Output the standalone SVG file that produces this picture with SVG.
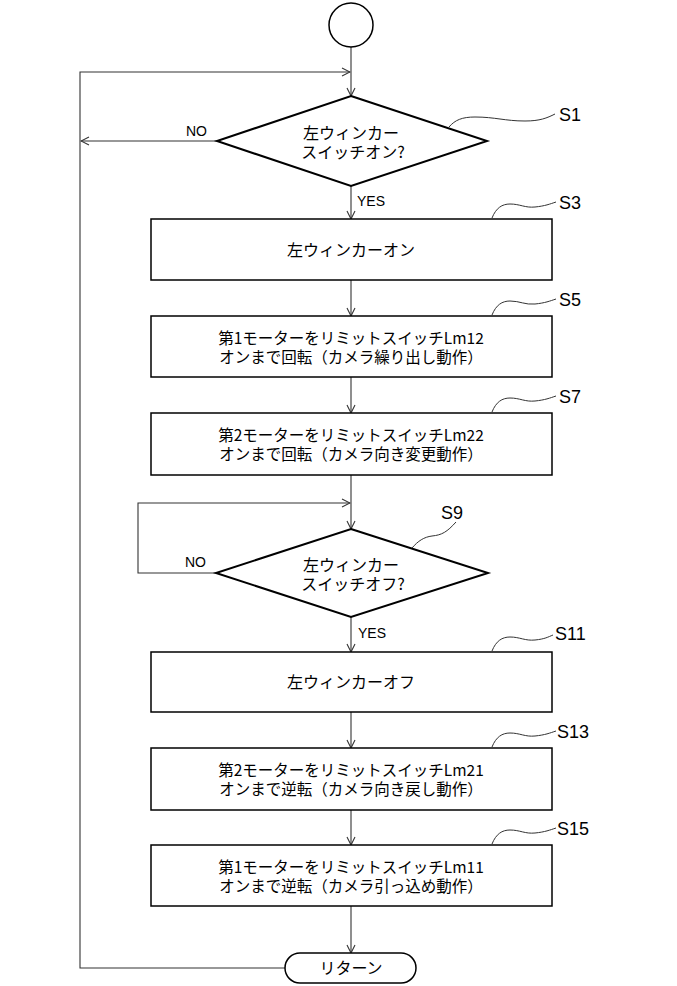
<svg xmlns="http://www.w3.org/2000/svg" width="677" height="986" viewBox="0 0 677 986">
<style>
.bg{fill:#fff}
.box{fill:#fff;stroke:#000;stroke-width:1.5}
.dia{fill:#fff;stroke:#000;stroke-width:2}
.con{fill:none;stroke:#333;stroke-width:1.1}
.lead{fill:none;stroke:#333;stroke-width:1}
.jp{font-family:"Noto Sans CJK JP","Noto Sans",sans-serif;font-size:16px;fill:#000;text-anchor:middle}
.jp2{font-family:"Noto Sans CJK JP","Noto Sans",sans-serif;font-size:15.5px;fill:#000;text-anchor:middle}
.lbl{font-family:"Liberation Sans",Arial,sans-serif;font-size:14px;fill:#000}
.step{font-family:"Liberation Sans",Arial,sans-serif;font-size:18px;fill:#000}
</style>
<defs>
<marker id="arr" markerWidth="10" markerHeight="10" refX="9" refY="5" orient="auto" markerUnits="userSpaceOnUse">
<path d="M1,1 L9,5 L1,9" fill="none" stroke="#333" stroke-width="1.1"/>
</marker>
</defs>
<rect class="bg" x="0" y="0" width="677" height="986"/>

<g id="connectors">
<line class="con" x1="351" y1="47" x2="351" y2="96" marker-end="url(#arr)"/>
<polyline class="con" points="285,968 80,968 80,72 350,72" marker-end="url(#arr)"/>
<line class="con" x1="217" y1="141" x2="81" y2="141" marker-end="url(#arr)"/>
<line class="con" x1="351" y1="186" x2="351" y2="219" marker-end="url(#arr)"/>
<line class="con" x1="351" y1="280" x2="351" y2="316" marker-end="url(#arr)"/>
<line class="con" x1="351" y1="377" x2="351" y2="413" marker-end="url(#arr)"/>
<line class="con" x1="351" y1="475" x2="351" y2="529" marker-end="url(#arr)"/>
<polyline class="con" points="216,573 138,573 138,503 350,503" marker-end="url(#arr)"/>
<line class="con" x1="351" y1="617" x2="351" y2="652" marker-end="url(#arr)"/>
<line class="con" x1="351" y1="712" x2="351" y2="748" marker-end="url(#arr)"/>
<line class="con" x1="351" y1="810" x2="351" y2="845" marker-end="url(#arr)"/>
<line class="con" x1="351" y1="906" x2="351" y2="953" marker-end="url(#arr)"/>
<text class="lbl" x="186" y="136">NO</text>
<text class="lbl" x="357" y="206">YES</text>
<text class="lbl" x="185" y="567">NO</text>
<text class="lbl" x="358" y="638">YES</text>
</g>

<g id="start">
<circle cx="351" cy="25" r="22" fill="#fff" stroke="#000" stroke-width="1.5"/>
</g>

<g id="S1">
<polygon class="dia" points="351,96 487,141 351,186 217,141"/>
<text class="jp" x="351" y="139">左ウィンカー</text>
<text class="jp" x="353" y="158">スイッチオン?</text>
<path class="lead" d="M449,127 C455,120 462,117 475,117 C495,117 505,121 525,121 C540,121 547,118 555,114"/>
<text class="step" x="559" y="121">S1</text>
</g>

<g id="S3">
<rect class="box" x="151" y="219" width="401" height="61"/>
<text class="jp" x="351" y="256">左ウィンカーオン</text>
<path class="lead" d="M492,218 C496,208 502,204 510,204 C520,204 525,208 535,207 C545,206 550,204 556,202"/>
<text class="step" x="559" y="209">S3</text>
</g>

<g id="S5">
<rect class="box" x="151" y="316" width="401" height="61"/>
<text class="jp2" x="351" y="344">第1モーターをリミットスイッチLm12</text>
<text class="jp2" x="351" y="363">オンまで回転（カメラ繰り出し動作）</text>
<path class="lead" d="M492,315 C496,305 502,301 510,301 C520,301 525,305 535,304 C545,303 550,301 556,299"/>
<text class="step" x="559" y="306">S5</text>
</g>

<g id="S7">
<rect class="box" x="151" y="413" width="401" height="62"/>
<text class="jp2" x="351" y="441">第2モーターをリミットスイッチLm22</text>
<text class="jp2" x="351" y="460">オンまで回転（カメラ向き変更動作）</text>
<path class="lead" d="M492,412 C496,402 502,398 510,398 C520,398 525,402 535,401 C545,400 550,398 556,396"/>
<text class="step" x="559" y="403">S7</text>
</g>

<g id="S9">
<polygon class="dia" points="351,529 488,573 351,617 216,573"/>
<text class="jp" x="351" y="571">左ウィンカー</text>
<text class="jp" x="353" y="590">スイッチオフ?</text>
<path class="lead" d="M412,548 C418,541 424,537 432,536 C442,535 447,532 456,522"/>
<text class="step" x="441" y="519">S9</text>
</g>

<g id="S11">
<rect class="box" x="151" y="652" width="401" height="60"/>
<text class="jp" x="351" y="688">左ウィンカーオフ</text>
<path class="lead" d="M492,651 C496,641 502,637 510,637 C520,637 525,641 535,640 C545,639 548,637 553,635"/>
<text class="step" x="555" y="640">S11</text>
</g>

<g id="S13">
<rect class="box" x="151" y="748" width="401" height="62"/>
<text class="jp2" x="351" y="776">第2モーターをリミットスイッチLm21</text>
<text class="jp2" x="351" y="795">オンまで逆転（カメラ向き戻し動作）</text>
<path class="lead" d="M492,747 C496,737 502,733 510,733 C520,733 525,737 535,736 C545,735 550,733 556,731"/>
<text class="step" x="557" y="738">S13</text>
</g>

<g id="S15">
<rect class="box" x="151" y="845" width="401" height="61"/>
<text class="jp2" x="351" y="873">第1モーターをリミットスイッチLm11</text>
<text class="jp2" x="351" y="892">オンまで逆転（カメラ引っ込め動作）</text>
<path class="lead" d="M492,844 C496,834 502,830 510,830 C520,830 525,834 535,833 C545,832 550,830 556,828"/>
<text class="step" x="557" y="835">S15</text>
</g>

<g id="return">
<rect class="box" x="285" y="953" width="131" height="30" rx="15" ry="15"/>
<text class="jp" x="351" y="974">リターン</text>
</g>
</svg>
